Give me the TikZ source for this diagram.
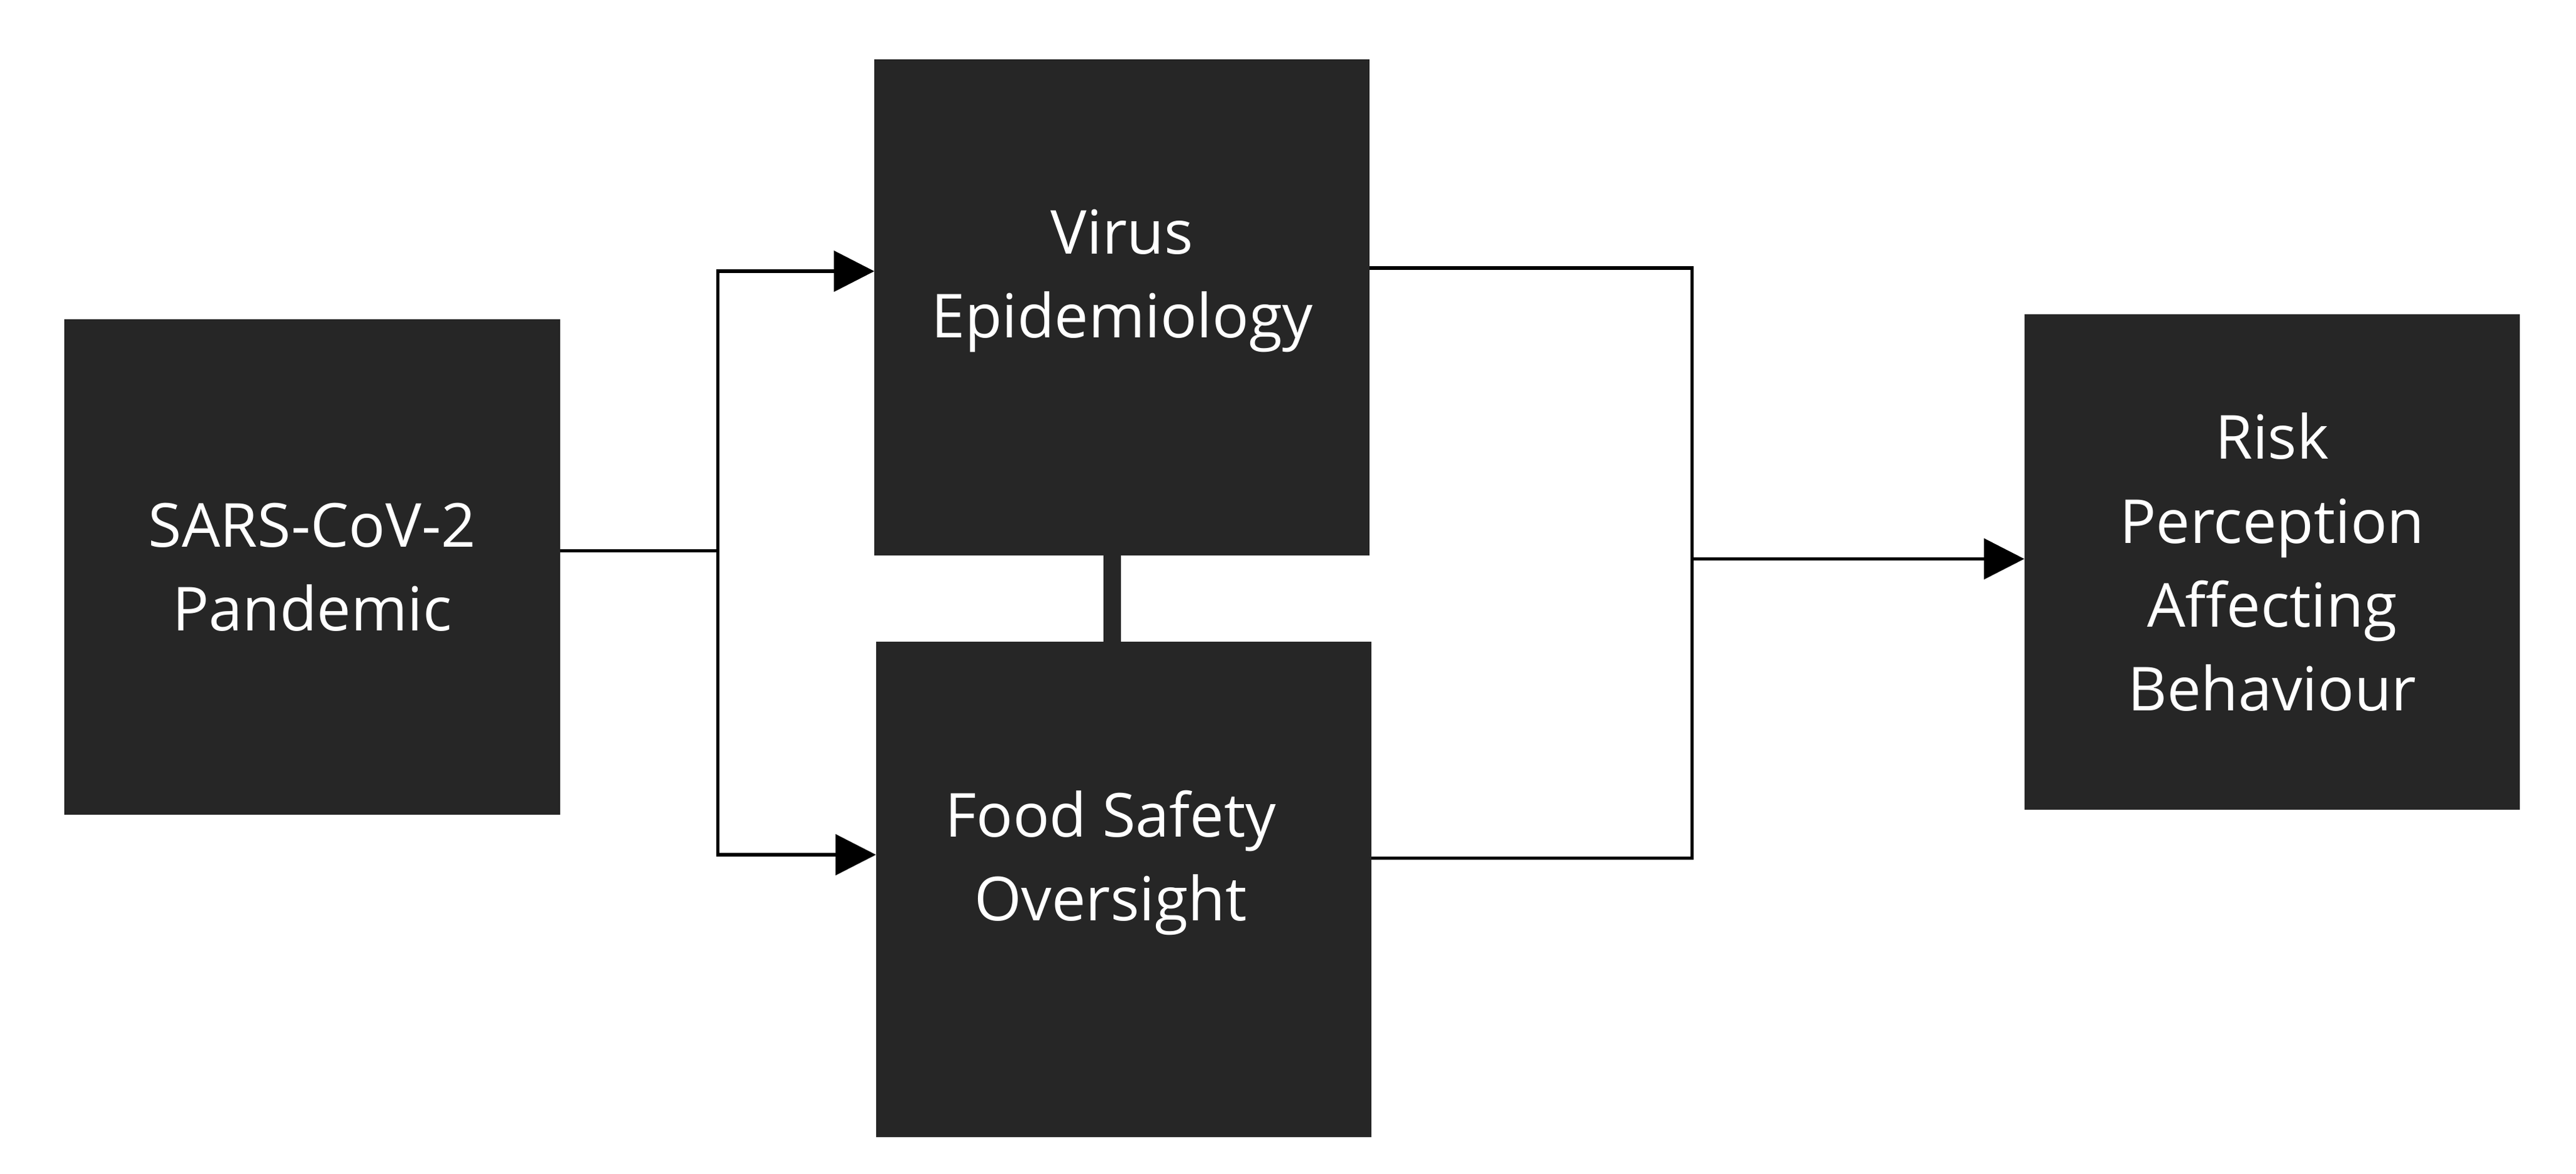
\documentclass[tikz,border=0pt]{standalone}
\usepackage{fontspec}
\setmainfont{Open Sans}
\usetikzlibrary{positioning,arrows.meta}
\tikzset{
	blk/.style={fill=black!85, draw=black!85, minimum width=3cm, minimum height=3cm, text=white, align=center, font=\fontsize{10.5}{14.5}\selectfont},
	conn/.style={line width=0.6pt},
	arr/.style={conn, -{Triangle[length=7pt,width=7pt]}}
}
\begin{document}
\begin{tikzpicture}[x=0.01cm,y=-0.01cm]
		\useasboundingbox (0,0) rectangle (1568,714);
		\node[blk] (sars) at (190,345) {SARS-CoV-2\\Pandemic};
		\node[blk] (virus) at (683,187) {};
		\node[blk] (food) at (684,541) {};
		\node[blk] (risk) at (1383,342) {Risk\\Perception\\Affecting\\Behaviour};
		\node[text=white, align=center, font=\fontsize{10.5}{14.5}\selectfont] (vt) at (683,171) {Virus\\Epidemiology};
		\node[text=white, align=center, font=\fontsize{10.5}{14.5}\selectfont] (ft) at (676,525) {Food Safety\\Oversight};
		
		\coordinate (split) at (437,335);
		\coordinate (join) at (1030,340);
		\draw[conn] (sars.east |- split) -- (split);
		\draw[arr] (split) |- (virus.west |- 0,165);
		\draw[arr] (split) |- (food.west |- 0,520);
		\draw[conn] (virus.east |- 0,163) -| (join);
		\draw[conn] (food.east |- 0,522) -| (join);
		\draw[arr] (join) -- (risk.west |- join);
		\draw[line width=3pt, black!85] (virus.south -| 677,0) -- (food.north -| 677,0);
	\end{tikzpicture}
\end{document}
